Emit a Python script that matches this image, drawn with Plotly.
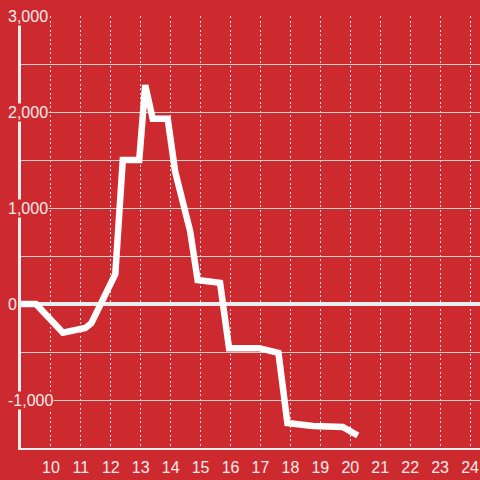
import plotly.graph_objects as go

# hour of day vs running balance
hours = [9, 9.5, 10.4, 11.15, 11.35, 12.15, 12.4, 12.95, 13.15, 13.4, 13.9,
         14.15, 14.65, 14.9, 15.65, 15.95, 16.95, 17.6, 17.9, 18.75, 19.75, 20.25]
values = [0, 0, -300, -250, -200, 310, 1500, 1500, 2280, 1930, 1930,
          1380, 760, 250, 220, -460, -460, -510, -1240, -1270, -1280, -1370]

x_ticks = list(range(10, 25))
y_grid = [-1000, -500, 0, 500, 1000, 1500, 2000, 2500, 3000]
y_label_vals = [3000, 2000, 1000, 0, -1000]
y_label_text = ["3,000", "2,000", "1,000", "0", "-1,000"]

RED = "#CD2A30"
TXT = "#f6ecec"
FONT = "Liberation Sans"
FS = 16

fig = go.Figure()
fig.add_trace(go.Scatter(
    x=hours, y=values, mode="lines",
    line=dict(color="white", width=6.5),
    hoverinfo="skip", showlegend=False,
))

# y labels sit over the axis with a red box behind them
for v, t in zip(y_label_vals, y_label_text):
    fig.add_annotation(
        x=-0.03, xref="paper", xanchor="left",
        y=v, yref="y", yanchor="middle",
        text=t, showarrow=False,
        font=dict(family=FONT, size=FS, color=TXT),
        bgcolor=RED, borderpad=0,
    )

fig.update_xaxes(
    range=[9, 9 + 460 / 30],
    tickvals=x_ticks, ticktext=[str(t) for t in x_ticks],
    showgrid=True, gridcolor="#e8dcdc", gridwidth=1, griddash="2px,2.5px",
    showline=True, linecolor="#eeeeee", linewidth=2,
    zeroline=False, ticks="", ticklabelstandoff=4,
    tickfont=dict(family=FONT, size=FS, color=TXT),
    fixedrange=True,
)
fig.update_yaxes(
    range=[-1500, 3000],
    tickvals=y_grid, showticklabels=False,
    showgrid=True, gridcolor="#cfcfcf", gridwidth=1,
    showline=True, linecolor="#eeeeee", linewidth=3,
    zeroline=True, zerolinecolor="#eeeeee", zerolinewidth=4,
    ticks="", fixedrange=True,
)
fig.update_layout(
    width=480, height=480,
    margin=dict(l=21, r=0, t=16, b=32),
    paper_bgcolor=RED, plot_bgcolor=RED,
    font=dict(family=FONT, color=TXT),
    showlegend=False,
)
fig.write_html("out.html", config={"displayModeBar": False},
               post_script="document.body.style.margin='0';document.body.style.overflow='hidden';")
